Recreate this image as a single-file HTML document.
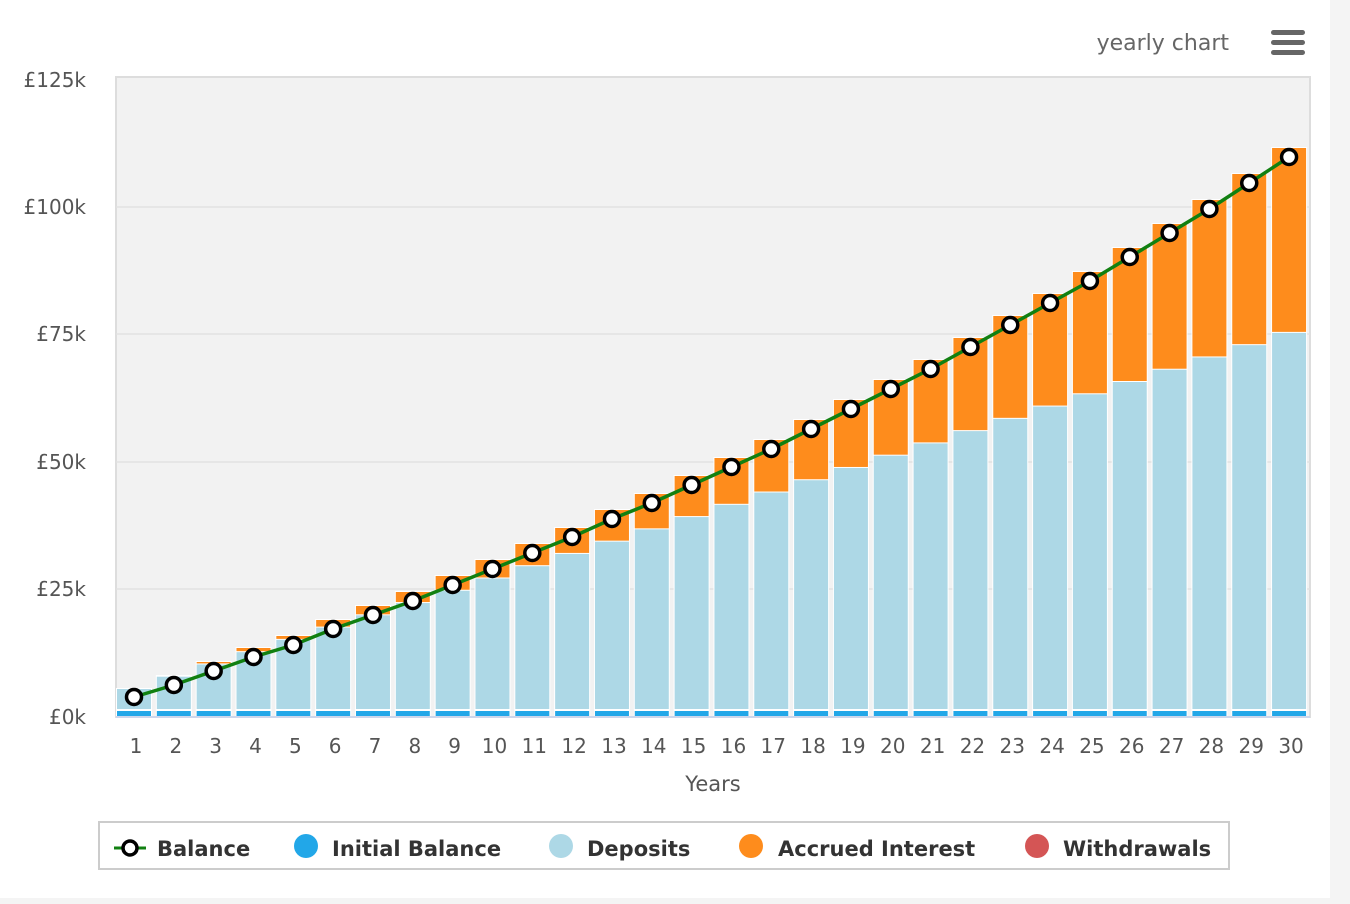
<!DOCTYPE html>
<html><head><meta charset="utf-8"><style>
html,body{margin:0;padding:0;background:#f4f4f4;}
body{width:1350px;height:904px;overflow:hidden;position:relative;font-family:"DejaVu Sans","Liberation Sans",sans-serif;}
#panel{position:absolute;left:0;top:0;width:1330px;height:898px;background:#fff;}
</style></head><body>
<div id="panel"></div>
<svg id="s" width="1350" height="904" style="position:absolute;left:0;top:0" xmlns="http://www.w3.org/2000/svg">
<rect x="116" y="77" width="1194" height="640" fill="#f2f2f2" stroke="#ddd" stroke-width="2"/>
<g stroke="#e2e2e2" stroke-width="1.5">
<line x1="116" x2="1310" y1="207" y2="207"/><line x1="116" x2="1310" y1="334" y2="334"/>
<line x1="116" x2="1310" y1="462" y2="462"/><line x1="116" x2="1310" y1="589" y2="589"/>
</g>
<g font-size="20" fill="#555" text-anchor="end">
<text x="86" y="87">£125k</text><text x="86" y="214">£100k</text><text x="86" y="341">£75k</text>
<text x="86" y="469">£50k</text><text x="86" y="596">£25k</text><text x="86" y="724">£0k</text>
</g>
<g id="bars"></g>
<line x1="116" x2="1310" y1="717" y2="717" stroke="#ccd6eb" stroke-width="2"/>
<g id="xl" font-size="20" fill="#555" text-anchor="middle"></g>
<text x="713" y="791" font-size="21" fill="#555" text-anchor="middle">Years</text>
<text x="1229" y="50" font-size="22" fill="#666" text-anchor="end">yearly chart</text>
<g fill="#666"><rect x="1271" y="30" width="34" height="5" rx="2.5"/><rect x="1271" y="40" width="34" height="5" rx="2.5"/><rect x="1271" y="50" width="34" height="5" rx="2.5"/></g>
<rect x="99" y="822" width="1130" height="47" fill="#fff" stroke="#ccc" stroke-width="2"/>
<g font-size="21" font-weight="bold" fill="#333">
<line x1="114" x2="146" y1="848" y2="848" stroke="#118011" stroke-width="3"/>
<circle cx="130" cy="848" r="7" fill="#fff" stroke="#000" stroke-width="3.5"/>
<text x="157" y="856">Balance</text>
<circle cx="306" cy="846" r="12" fill="#22a7e8"/><text x="332" y="856">Initial Balance</text>
<circle cx="561" cy="846" r="12" fill="#add8e6"/><text x="587" y="856">Deposits</text>
<circle cx="751" cy="846" r="12" fill="#fe8c1c"/><text x="778" y="856">Accrued Interest</text>
<circle cx="1037" cy="846" r="12" fill="#d45555"/><text x="1063" y="856">Withdrawals</text>
</g>
</svg>
<script>
(function(){
var m=[697,685,671,657,645,629,615,601,585,569,553,537,519,503,485,467,449,429,409,389,369,347,325,303,281,257,233,209,183,157];
var NS="http://www.w3.org/2000/svg",b=document.getElementById("bars"),xl=document.getElementById("xl");
function el(t,a,p){var e=document.createElementNS(NS,t);for(var k in a)e.setAttribute(k,a[k]);(p||b).appendChild(e);return e;}
var pts=[];
for(var i=0;i<30;i++){
 var cx=134+39.83*i,x=cx-18,w=36;
 var dep=688-12.28*i,tp=Math.min(m[i]-10,dep);
 if(i==0)tp=dep;
 el("rect",{x:x,y:tp,width:w,height:717-tp,fill:"#fff"});
 if(dep-tp>1)el("rect",{x:x+1,y:tp+1,width:w-2,height:dep-tp-1,fill:"#fe8c1c"});
 el("rect",{x:x+1,y:dep+1,width:w-2,height:709-dep-1,fill:"#add8e6"});
 el("rect",{x:x+1,y:711,width:w-2,height:6,fill:"#22a7e8"});
 pts.push(cx+","+m[i]);
 var t=el("text",{x:cx+2,y:753},xl);t.textContent=i+1;
}
el("polyline",{points:pts.join(" "),fill:"none",stroke:"#118011","stroke-width":3.5});
for(var i=0;i<30;i++)el("circle",{cx:134+39.83*i,cy:m[i],r:7.5,fill:"#fff",stroke:"#000","stroke-width":3.5});
})();
</script>
</body></html>
